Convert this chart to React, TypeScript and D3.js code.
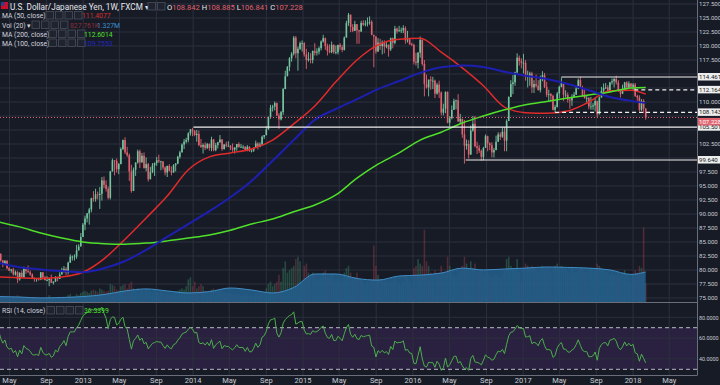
import React from "react";
import * as d3 from "d3";

const W = 720;
const H = 385;
const PLOT_R = 697;
const BG = "#171b26";
const GRID = "#2c303c";
const UP = "#74c49e";
const DOWN = "#e0626f";

// weekly closes before the first visible bar (RSI warm-up only)
const preCloses = [80.6, 79.2, 78.4, 77.6, 78.4, 76.8, 76.5, 76.6, 76.8, 77.5, 76.8, 76.4, 77.0,
  76.7, 76.9, 76.2, 75.8, 78.2, 77.0, 76.9, 77.7, 77.9, 77.6, 77.8, 78.0, 76.9,
  76.9, 76.95, 77.0, 76.7, 76.6, 77.6, 79.5, 81.2, 81.8, 82.4, 83.4, 82.4];

// weekly [high, low, close], first week 2012-03-26; open = previous close
const hlc2012 = [
  [83.3, 82.0, 82.85], [83.0, 81.5, 81.7], [81.8, 80.5, 80.9], [81.8, 80.9, 81.6], [81.8, 80.1, 80.3],
  [80.5, 79.8, 79.9], [80.2, 79.5, 80.1], [80.4, 79.0, 79.2], [79.9, 79.0, 79.6], [79.8, 77.7, 78.3],
  [79.6, 78.1, 79.5], [79.9, 78.6, 78.7], [80.6, 78.7, 80.4], [80.4, 79.3, 79.8], [80.8, 79.5, 79.6],
  [79.9, 79.0, 79.2], [79.4, 78.5, 78.5], [78.7, 77.9, 78.4], [78.5, 77.9, 78.5], [78.6, 78.1, 78.3],
  [79.6, 78.2, 79.6], [79.6, 78.3, 78.7], [78.9, 78.1, 78.2], [78.9, 78.0, 78.2], [78.6, 77.1, 78.4],
  [79.2, 77.7, 77.7], [78.0, 77.4, 77.9], [78.9, 77.9, 78.7], [78.8, 78.0, 78.4], [79.6, 78.4, 79.2],
  [80.4, 79.4, 79.6], [80.7, 79.6, 80.2], [80.5, 79.1, 79.5], [81.5, 79.2, 81.3], [82.8, 81.4, 82.4],
  [82.6, 81.7, 82.4], [82.8, 81.7, 82.4], [84.5, 82.0, 83.5], [84.6, 83.5, 84.2], [86.6, 84.3, 85.9],
  [88.4, 86.0, 88.1],
];
const hlc2013 = [
  [89.7, 87.1, 89.2], [90.2, 88.5, 90.1], [91.1, 88.1, 90.8], [92.9, 90.3, 92.8], [94.1, 92.2, 92.7],
  [94.5, 92.2, 93.5], [94.0, 92.6, 93.4], [94.8, 90.9, 93.6], [96.6, 92.4, 96.0], [96.7, 94.6, 95.2],
  [96.0, 94.0, 94.5], [94.9, 92.6, 92.9], [97.7, 92.6, 97.6], [99.9, 97.6, 99.6], [99.6, 96.9, 99.5],
  [99.9, 97.4, 98.0], [99.1, 97.1, 98.9], [101.9, 98.9, 101.6], [103.3, 101.4, 103.2], [103.7, 100.7, 101.0],
  [102.0, 100.2, 100.5], [100.8, 95.9, 97.6], [98.8, 93.8, 94.1], [98.3, 94.2, 97.9], [99.2, 96.8, 99.2],
  [101.5, 99.0, 101.2], [101.5, 98.2, 99.2], [100.9, 99.2, 100.4], [101.0, 98.1, 98.2], [100.1, 97.6, 98.9],
  [99.1, 95.8, 96.2], [98.4, 96.5, 97.5], [99.1, 97.3, 98.7], [99.2, 96.8, 99.1], [100.2, 98.6, 99.6],
  [100.6, 99.1, 99.4], [99.5, 97.8, 99.4], [99.4, 97.9, 98.3], [98.5, 96.9, 97.4], [98.6, 96.6, 98.6],
  [98.9, 97.6, 97.7], [98.5, 96.9, 97.4], [98.9, 97.6, 98.7], [99.1, 97.6, 99.0], [100.4, 98.9, 100.2],
  [101.3, 99.9, 101.0], [102.6, 101.0, 102.4], [103.4, 101.6, 102.9], [103.6, 102.6, 103.2], [104.6, 102.8, 104.4],
  [105.2, 104.0, 105.1], [105.4, 103.9, 104.8],
];
const hlc2014 = [
  [105.0, 103.9, 104.1], [105.0, 102.9, 104.3], [104.9, 102.1, 102.3], [103.4, 101.8, 102.0], [102.6, 100.8, 102.3],
  [102.8, 101.4, 101.8], [102.7, 101.6, 102.5], [102.6, 101.3, 101.8], [103.8, 101.2, 103.3], [103.4, 101.2, 101.4],
  [102.7, 101.2, 102.3], [102.9, 101.7, 102.8], [104.1, 102.7, 103.3], [103.4, 101.3, 101.6], [102.5, 101.5, 102.4],
  [102.9, 101.9, 102.2], [103.0, 102.0, 102.2], [102.3, 101.4, 101.8], [102.6, 101.1, 101.5], [101.9, 100.8, 101.9],
  [102.5, 101.3, 102.5], [102.8, 101.8, 102.0], [102.5, 101.8, 102.0], [102.3, 101.6, 102.0], [102.1, 101.4, 101.4],
  [102.3, 101.2, 102.0], [102.1, 101.1, 101.3], [101.6, 101.0, 101.3], [101.9, 101.1, 101.8], [103.1, 101.8, 102.6],
  [102.8, 101.5, 102.0], [102.8, 101.9, 102.4], [104.0, 102.5, 103.8], [104.1, 103.4, 104.1], [105.7, 104.0, 105.1],
  [107.4, 105.2, 107.3], [109.5, 107.0, 109.0], [109.5, 108.3, 109.2], [110.1, 108.5, 109.8], [109.9, 107.5, 107.6],
  [108.0, 105.2, 106.9], [108.4, 106.7, 108.2], [112.5, 107.7, 112.3], [115.6, 112.3, 114.6], [116.4, 114.9, 116.3],
  [118.0, 115.5, 117.8], [118.9, 117.2, 118.6], [121.8, 118.3, 121.5], [121.8, 117.8, 118.7], [119.9, 115.6, 119.5],
  [120.8, 119.3, 120.5], [121.0, 119.0, 120.5],
];
const hlc2015 = [
  [120.7, 118.1, 118.5], [119.5, 115.9, 117.5], [118.9, 117.2, 117.7], [118.7, 116.9, 117.5], [119.2, 116.9, 119.1],
  [120.5, 118.3, 118.8], [119.6, 118.3, 119.0], [119.9, 118.5, 119.6], [121.0, 119.2, 120.8], [122.0, 120.6, 121.4],
  [121.5, 119.3, 120.0], [120.4, 118.3, 119.1], [120.3, 118.7, 118.9], [120.8, 118.7, 120.2], [120.3, 118.6, 118.9],
  [120.1, 118.5, 118.9], [120.1, 118.5, 120.2], [120.5, 119.3, 119.8], [120.2, 118.9, 119.3], [121.7, 119.2, 121.5],
  [124.5, 121.5, 124.1], [125.9, 123.6, 125.6], [125.6, 122.5, 123.4], [123.9, 122.5, 122.7], [124.5, 122.8, 123.9],
  [123.9, 120.4, 122.8], [122.9, 120.4, 122.6], [124.5, 122.5, 124.1], [124.6, 123.6, 123.8], [124.6, 123.5, 124.0],
  [125.1, 123.5, 124.2], [125.3, 123.8, 124.3], [124.6, 121.9, 122.0], [122.0, 116.2, 121.7], [121.7, 118.6, 119.0],
  [121.4, 119.0, 120.6], [121.3, 119.3, 120.0], [121.0, 118.5, 120.6], [121.0, 118.7, 119.9], [120.7, 119.6, 120.2],
  [120.3, 118.1, 119.4], [121.5, 119.1, 121.4], [121.5, 119.6, 120.6], [123.6, 120.3, 123.1], [123.3, 122.2, 122.6],
  [123.6, 122.6, 122.8], [123.3, 122.3, 122.8], [123.7, 122.3, 123.2], [123.5, 120.4, 121.0], [122.7, 120.6, 121.2],
  [121.3, 120.2, 120.3], [120.6, 120.0, 120.2],
];
const hlc2016 = [
  [120.4, 116.7, 117.2], [118.8, 116.5, 117.0], [118.9, 116.0, 118.8], [121.7, 117.9, 121.1], [121.2, 116.5, 116.8],
  [117.5, 111.0, 113.2], [114.9, 112.4, 112.6], [114.0, 111.0, 114.0], [114.6, 112.2, 113.8], [114.5, 112.3, 113.8],
  [114.0, 110.7, 111.5], [113.4, 111.3, 113.1], [113.8, 110.7, 111.7], [111.9, 107.6, 108.1], [109.7, 107.6, 108.8],
  [111.9, 108.0, 111.8], [111.9, 106.2, 106.3], [107.5, 105.6, 107.1], [109.4, 106.9, 108.6], [110.6, 108.6, 110.2],
  [110.4, 108.7, 110.3], [111.4, 106.5, 106.5], [107.9, 106.2, 107.0], [106.9, 103.6, 104.2], [106.8, 99.0, 102.2],
  [103.3, 101.5, 102.5], [103.2, 99.9, 100.6], [105.8, 100.6, 104.9], [107.5, 104.7, 106.1], [107.5, 101.9, 102.1],
  [102.9, 100.7, 101.8], [102.3, 100.9, 101.3], [101.5, 99.5, 100.2], [102.0, 99.6, 101.8], [104.2, 101.8, 103.9],
  [104.0, 101.2, 102.6], [102.8, 101.4, 102.3], [102.8, 100.1, 101.0], [101.8, 100.1, 101.4], [104.0, 101.5, 102.9],
  [104.6, 102.9, 104.2], [104.6, 103.2, 103.8], [105.5, 103.6, 104.7], [105.5, 101.2, 103.1], [106.9, 101.2, 106.6],
  [111.0, 106.6, 110.9], [113.9, 110.9, 113.2], [114.8, 111.4, 113.5], [115.4, 112.9, 115.3], [118.7, 115.0, 117.9],
  [118.3, 116.5, 117.3], [117.8, 116.0, 117.0],
];
const hlc2017 = [
  [118.6, 115.1, 117.0], [117.5, 113.8, 114.5], [115.6, 112.6, 114.6], [115.4, 112.9, 115.1], [115.4, 111.6, 112.6],
  [113.9, 111.6, 113.2], [114.9, 112.6, 112.9], [113.9, 112.1, 112.1], [114.7, 111.7, 114.0], [115.5, 113.7, 114.8],
  [115.2, 112.5, 112.7], [113.6, 110.9, 111.3], [112.2, 110.1, 111.4], [111.6, 110.1, 111.1], [111.3, 108.5, 108.6],
  [109.5, 108.1, 109.1], [111.8, 109.0, 111.5], [112.9, 110.7, 112.7], [114.4, 112.6, 113.4], [113.5, 110.2, 111.3],
  [112.1, 110.8, 111.3], [111.7, 109.9, 110.4], [110.8, 108.8, 110.3], [111.4, 109.3, 110.9], [111.8, 110.8, 111.3],
  [112.9, 111.3, 112.4], [114.2, 112.3, 113.9], [114.5, 112.5, 112.5], [112.9, 110.9, 111.1], [112.2, 110.6, 110.7],
  [111.1, 109.9, 110.7], [110.9, 108.7, 109.2], [110.9, 108.6, 109.2], [109.8, 108.6, 109.4], [110.7, 108.3, 110.2],
  [110.2, 107.3, 107.8], [111.0, 107.8, 110.8], [112.7, 110.8, 112.0], [113.3, 111.7, 112.5], [113.4, 112.3, 112.6],
  [113.0, 111.7, 111.8], [113.6, 111.7, 113.5], [114.2, 113.1, 113.7], [114.3, 112.6, 114.1], [114.7, 113.1, 113.5],
  [113.9, 111.8, 112.1], [112.3, 110.8, 111.5], [113.1, 111.4, 112.2], [113.6, 112.0, 113.5], [113.7, 112.1, 112.6],
  [113.7, 112.5, 113.3], [113.4, 112.5, 112.7],
];
const hlc2018 = [
  [113.4, 112.0, 113.1], [113.4, 110.9, 111.1], [111.3, 110.2, 110.8], [111.2, 108.3, 108.6], [110.5, 108.4, 110.2],
  [110.5, 108.0, 108.842], [108.885, 106.841, 107.228],
];

// weekly volume, millions
const vol2012 = [0.3, 0.25, 0.28, 0.2, 0.22, 0.2, 0.18, 0.25, 0.2, 0.3, 0.25, 0.2, 0.22, 0.2, 0.18, 0.2, 0.2, 0.22, 0.18, 0.15,
  0.2, 0.18, 0.15, 0.16, 0.3, 0.22, 0.18, 0.17, 0.18, 0.2, 0.22, 0.2, 0.22, 0.3, 0.35, 0.25, 0.25, 0.35, 0.3, 0.4, 0.45];
const vol2013 = [0.5, 0.45, 0.4, 0.5, 0.55, 0.5, 0.45, 0.6, 0.55, 0.5, 0.45, 0.5, 0.8, 0.75, 0.7, 0.55, 0.5, 0.7, 0.75, 0.8,
  0.6, 0.8, 0.9, 0.6, 0.55, 0.6, 0.55, 0.5, 0.45, 0.55, 0.5, 0.45, 0.4, 0.5, 0.45, 0.4, 0.45, 0.4, 0.4, 0.35,
  0.35, 0.35, 0.4, 0.45, 0.5, 0.55, 0.6, 0.55, 0.7, 1.0, 1.1, 0.7];
const vol2014 = [0.9, 0.6, 0.7, 0.8, 0.7, 0.5, 0.45, 0.5, 0.55, 0.6, 0.5, 0.45, 0.5, 0.5, 0.4, 0.4, 0.4, 0.4, 0.35, 0.35,
  0.3, 0.35, 0.3, 0.3, 0.3, 0.35, 0.3, 0.3, 0.3, 0.4, 0.4, 0.35, 0.4, 0.4, 0.6, 0.8, 0.9, 0.7, 0.8, 0.9,
  1.2, 0.9, 1.5, 1.8, 1.3, 1.4, 1.5, 1.6, 1.9, 2.0, 1.8, 0.9];
const vol2015 = [1.6, 1.7, 1.3, 1.2, 1.3, 1.2, 1.0, 1.0, 1.1, 1.3, 1.4, 1.1, 1.1, 1.2, 1.0, 0.9, 1.0, 0.9, 0.9, 1.3,
  1.5, 1.6, 1.3, 1.0, 1.1, 1.3, 1.0, 1.0, 0.9, 0.8, 0.9, 0.8, 1.0, 2.5, 1.6, 1.2, 1.0, 1.0, 0.9, 0.9,
  0.8, 0.9, 0.9, 1.1, 0.9, 0.8, 0.7, 0.9, 1.2, 1.1, 0.9, 0.6];
const vol2016 = [1.5, 1.6, 1.9, 1.7, 1.6, 3.2, 1.8, 1.6, 1.3, 1.2, 1.4, 1.2, 1.3, 1.6, 1.3, 1.2, 2.0, 1.6, 1.3, 1.2,
  1.1, 1.4, 1.3, 1.6, 2.0, 1.7, 1.5, 1.8, 1.5, 1.7, 1.3, 1.3, 1.4, 1.2, 1.3, 1.4, 1.2, 1.1, 1.1, 1.2,
  1.2, 1.1, 1.2, 1.4, 1.9, 2.0, 1.6, 1.5, 1.4, 1.9, 1.3, 0.9];
const vol2017 = [1.5, 1.7, 1.6, 1.5, 1.6, 1.5, 1.4, 1.3, 1.4, 1.6, 1.5, 1.5, 1.4, 1.3, 1.5, 1.6, 1.7, 1.5, 1.6, 1.5,
  1.4, 1.3, 1.3, 1.5, 1.3, 1.3, 1.4, 1.5, 1.5, 1.3, 1.3, 1.4, 1.5, 1.4, 1.4, 1.7, 1.6, 1.5, 1.4, 1.3,
  1.3, 1.2, 1.3, 1.2, 1.2, 1.3, 1.2, 1.3, 1.4, 1.2, 1.1, 0.8];
const vol2018 = [1.2, 1.4, 1.3, 1.6, 1.5, 3.3, 0.83];

// moving averages at every 10th bar and the last bar
const ma50 = [78.75, 78.6, 78.5, 78.75, 79.6, 82.0, 85.5, 89.3, 93.2, 97.9, 100.2, 100.9, 101.6, 103.2, 106.1, 109.3,
  113.6, 117.5, 120.2, 121.2, 121.4, 118.9, 116.1, 112.9, 109.1, 108.1, 108.0, 108.4, 110.0, 112.0, 112.1, 111.4];
const ma100 = [81.25, 80.5, 80.1, 79.8, 79.6, 80.3, 81.6, 83.6, 85.9, 88.2, 90.5, 93.0, 95.9, 99.5, 103.2, 106.8,
  108.75, 110.5, 112.3, 113.75, 115.2, 116.2, 116.5, 116.25, 115.4, 114.7, 114.1, 113.2, 112.1, 110.9, 110.2, 109.8];
const ma200 = [88.6, 87.7, 86.6, 85.7, 85.0, 84.7, 84.6, 84.8, 85.2, 85.7, 86.25, 87.1, 88.2, 89.1, 90.4, 91.6,
  93.4, 96.4, 98.9, 100.9, 103.2, 104.6, 106.25, 107.5, 108.6, 109.5, 110.1, 110.7, 111.25, 111.8, 112.5, 112.6];
const volMa = [0.24, 0.22, 0.18, 0.2, 0.24, 0.33, 0.49, 0.58, 0.49, 0.4, 0.46, 0.62, 0.53, 0.4, 0.64, 1.24,
  1.24, 1.04, 0.97, 1.15, 1.19, 1.28, 1.5, 1.42, 1.46, 1.5, 1.55, 1.53, 1.5, 1.42, 1.22, 1.33];

// horizontal levels drawn on the chart
const levels = [105.501, 114.461, 99.64, 112.164, 108.143];
const levelFrom = ["2014-01-02", "2017-05-08", "2016-06-24", "2018-01-05", "2017-04-17"];
const levelDashed = [false, false, false, true, true];
const lastPrice = 107.228;

const legendRows = ["MA (50, close)", "Vol (20)", "MA (200, close)", "MA (100, close)"];
const rsiValueText = "36.3399";

function rsi(vals: number[], n = 14) {
  const out: number[] = [];
  let g = 0, l = 0;
  for (let i = 1; i < vals.length; i++) {
    const d = vals[i] - vals[i - 1];
    const up = Math.max(d, 0), dn = Math.max(-d, 0);
    if (i <= n) { g += up / n; l += dn / n; }
    else { g = (g * (n - 1) + up) / n; l = (l * (n - 1) + dn) / n; }
    out[i] = l === 0 ? 100 : 100 - 100 / (1 + g / l);
  }
  return out;
}

const Buttons = ({ x0, y0, count }: { x0: number; y0: number; count: number }) => (
  <g>
    {d3.range(count).map((k) => (
      <rect key={k} x={x0 + k * 9.5} y={y0} width={7.5} height={7.5} fill="#1f2330" stroke="#4a4f5c" strokeWidth={0.8} />
    ))}
  </g>
);

export default function App() {
  const hlc = [...hlc2012, ...hlc2013, ...hlc2014, ...hlc2015, ...hlc2016, ...hlc2017, ...hlc2018];
  const vols = [...vol2012, ...vol2013, ...vol2014, ...vol2015, ...vol2016, ...vol2017, ...vol2018];
  let prev = preCloses[preCloses.length - 1];
  const bars = hlc.map(([h, l, c], i) => {
    const o = prev;
    prev = c;
    return { date: new Date(2012, 2, 26 + 7 * i), o, h: Math.max(h, o, c), l: Math.min(l, o, c), c, v: vols[i] };
  });

  const x = d3.scaleTime().domain([new Date(2012, 0, 1), new Date(2019, 0, 1)]).range([-27, 743]);
  const y = d3.scaleLinear().domain([75, 127.5]).range([298, 4]);
  const yv = d3.scaleLinear().domain([0, 1]).range([302, 279.4]);
  const yr = d3.scaleLinear().domain([30, 70]).range([369.3, 327.7]);

  const sampleIdx = [...d3.range(0, 301, 10), bars.length - 1];
  const maLine = d3.line<number>()
    .x((_, k) => x(bars[sampleIdx[k]].date))
    .y((v) => y(v))
    .curve(d3.curveMonotoneX);
  const volArea = d3.area<number>()
    .x((_, k) => x(bars[sampleIdx[k]].date))
    .y0(302)
    .y1((v) => yv(v))
    .curve(d3.curveMonotoneX);
  const volTop = d3.line<number>()
    .x((_, k) => x(bars[sampleIdx[k]].date))
    .y((v) => yv(v))
    .curve(d3.curveMonotoneX);

  const allCloses = [...preCloses, ...bars.map((b) => b.c)];
  const rsiAll = rsi(allCloses);
  const rsiVals = bars.map((_, i) => rsiAll[i + preCloses.length]);
  const rsiLine = d3.line<number>()
    .x((_, i) => x(bars[i].date))
    .y((v) => yr(v));

  const months = d3.timeMonths(new Date(2012, 0, 1), new Date(2018, 11, 31), 4)
    .filter((d) => x(d) > 4 && x(d) < PLOT_R - 10);
  const fmtTick = (d: Date) => (d.getMonth() === 0 ? d3.timeFormat("%Y")(d) : d3.timeFormat("%b")(d));

  const priceTicks = d3.range(75, 127.6, 2.5);
  const labelYs = [...levels, lastPrice].map((v) => y(v));
  const visibleTicks = priceTicks.filter((t) => labelYs.every((ly) => Math.abs(ly - y(t)) > 7));

  const bw = 1.6;
  const font = "Roboto, 'Liberation Sans', Arial, sans-serif";
  const axisFs = 6.1;
  const lastY = y(lastPrice) + 4;

  return (
    <svg width={W} height={H} style={{ position: "absolute", left: 0, top: 0, fontFamily: font }}>
      <defs>
        <clipPath id="pricePane"><rect x={0} y={0} width={PLOT_R} height={302} /></clipPath>
        <clipPath id="rsiPane"><rect x={0} y={303} width={PLOT_R} height={72} /></clipPath>
      </defs>
      <rect width={W} height={H} fill={BG} />

      {/* RSI band */}
      <rect x={0} y={yr(70)} width={PLOT_R} height={yr(30) - yr(70)} fill="#2a2040" />

      {/* grid */}
      {priceTicks.map((t) => (
        <line key={t} x1={0} x2={PLOT_R} y1={y(t)} y2={y(t)} stroke={GRID} strokeWidth={1} />
      ))}
      {[80, 60, 40].map((t) => (
        <line key={t} x1={0} x2={PLOT_R} y1={yr(t)} y2={yr(t)} stroke={GRID} strokeWidth={1} />
      ))}
      {months.map((d) => (
        <line key={+d} x1={x(d)} x2={x(d)} y1={0} y2={375} stroke={GRID} strokeWidth={1} />
      ))}

      <g clipPath="url(#pricePane)">
        {/* volume */}
        {bars.map((b, i) => (
          <rect key={i} x={x(b.date) - bw / 2} y={yv(b.v)} width={bw} height={302 - yv(b.v)}
            fill={b.c >= b.o ? "#3f8f6c" : "#a8424f"} opacity={0.4} />
        ))}
        <path d={volArea(volMa) ?? ""} fill="#235f8c" opacity={0.88} />
        <path d={volTop(volMa) ?? ""} fill="none" stroke="#3f8cc4" strokeWidth={1} />

        {/* candles */}
        {bars.map((b, i) => {
          const cx = x(b.date);
          const col = b.c >= b.o ? UP : DOWN;
          const top = y(Math.max(b.o, b.c));
          const bot = y(Math.min(b.o, b.c));
          return (
            <g key={i}>
              <line x1={cx} x2={cx} y1={y(b.h)} y2={y(b.l)} stroke={col} strokeWidth={0.9} />
              <rect x={cx - bw / 2} y={top} width={bw} height={Math.max(bot - top, 0.8)} fill={col} />
            </g>
          );
        })}

        {/* moving averages */}
        <path d={maLine(ma50) ?? ""} fill="none" stroke="#e02b2b" strokeWidth={1.5} />
        <path d={maLine(ma200) ?? ""} fill="none" stroke="#4fe02a" strokeWidth={1.5} />
        <path d={maLine(ma100) ?? ""} fill="none" stroke="#1d1fb0" strokeWidth={2} />

        {/* levels */}
        {levels.map((v, k) => (
          <line key={v} x1={x(new Date(levelFrom[k]))} x2={PLOT_R} y1={y(v)} y2={y(v)}
            stroke="#f0f0f0" strokeWidth={1.2} strokeDasharray={levelDashed[k] ? "4 3" : undefined} />
        ))}
        <line x1={0} x2={PLOT_R} y1={y(lastPrice)} y2={y(lastPrice)} stroke={DOWN} strokeWidth={1} strokeDasharray="1 2" />
      </g>

      {/* RSI */}
      <line x1={0} x2={PLOT_R} y1={yr(70)} y2={yr(70)} stroke="#b8bac4" strokeDasharray="4 3" />
      <line x1={0} x2={PLOT_R} y1={yr(30)} y2={yr(30)} stroke="#b8bac4" strokeDasharray="4 3" />
      <g clipPath="url(#rsiPane)">
        <path d={rsiLine(rsiVals) ?? ""} fill="none" stroke="#4cae4c" strokeWidth={1} />
      </g>

      {/* pane borders */}
      <line x1={0} x2={PLOT_R} y1={302.5} y2={302.5} stroke="#6a6e7a" />
      <line x1={0} x2={PLOT_R} y1={375.5} y2={375.5} stroke="#6a6e7a" />
      <line x1={PLOT_R + 0.5} x2={PLOT_R + 0.5} y1={0} y2={375.5} stroke="#6a6e7a" />

      {/* price axis */}
      {visibleTicks.map((t) => (
        <text key={t} x={699} y={y(t) + 2.2} fontSize={axisFs} fill="#c8cbd2">{t.toFixed(3)}</text>
      ))}
      {levels.map((v) => (
        <g key={v}>
          <rect x={698} y={y(v) - 4} width={22} height={7.5} fill="#eeeeee" />
          <text x={699} y={y(v) + 2} fontSize={axisFs} fill="#131722">{v.toFixed(3)}</text>
        </g>
      ))}
      <rect x={698} y={lastY - 3.6} width={22} height={7.5} fill={DOWN} />
      <text x={699} y={lastY + 2.2} fontSize={axisFs} fill="#ffffff">{lastPrice.toFixed(3)}</text>
      {[80, 60, 40].map((t) => (
        <text key={t} x={699} y={yr(t) + 2.2} fontSize={axisFs - 0.7} fill="#c8cbd2">{t.toFixed(4)}</text>
      ))}

      {/* time axis */}
      {months.map((d) => (
        <text key={+d} x={x(d)} y={383} fontSize={7.5} fill="#c8cbd2" textAnchor="middle">{fmtTick(d)}</text>
      ))}

      {/* legend */}
      <rect x={1} y={2} width={7} height={7} fill="#c8102e" />
      <rect x={1} y={2} width={3.5} height={3.5} fill="#2a3f8f" />
      <text x={10} y={9.5} fontSize={8.2} fill="#e6e8ee">U.S. Dollar/Japanese Yen, 1W, FXCM ▾</text>
      <Buttons x0={148} y0={2.5} count={2} />
      <text x={167} y={9.5} fontSize={7.6} fill="#e6e8ee">
        O<tspan fill={DOWN}>108.842</tspan> H<tspan fill={DOWN}>108.885</tspan> L<tspan fill={DOWN}>106.841</tspan> C<tspan fill={DOWN}>107.228</tspan>
      </text>

      {legendRows.map((label, k) => {
        const by = [18, 27.5, 36.5, 45.5][k];
        const bx = [46, 32, 49, 49][k];
        return (
          <g key={label}>
            <text x={2} y={by} fontSize={6.8} fill="#d1d4dc">{label} ▾</text>
            <Buttons x0={bx} y0={by - 6.5} count={4} />
          </g>
        );
      })}
      <text x={82} y={18} fontSize={6.8} fill="#d3302f">111.4077</text>
      <text x={70} y={27.5} fontSize={6.8} fill="#8c2f36">827.761K</text>
      <text x={97} y={27.5} fontSize={6.8} fill="#3d8fd1">1.327M</text>
      <text x={84} y={36.5} fontSize={6.8} fill="#4fe02a">112.6014</text>
      <text x={84} y={45.5} fontSize={6.8} fill="#2326c0">109.7553</text>

      <text x={2} y={313} fontSize={6.8} fill="#d1d4dc">RSI (14, close) ▾</text>
      <Buttons x0={47} y0={306.5} count={4} />
      <text x={84} y={313} fontSize={6.8} fill="#4fe02a">{rsiValueText}</text>
    </svg>
  );
}
